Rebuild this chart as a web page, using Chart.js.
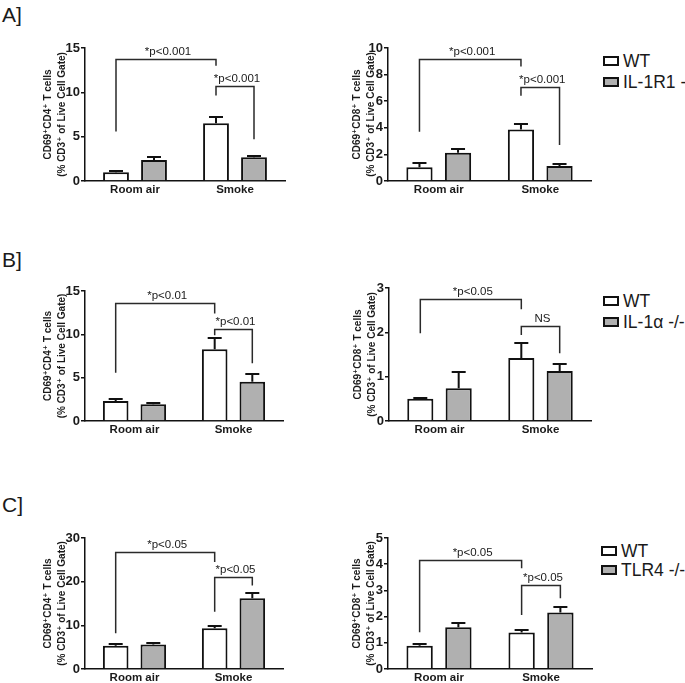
<!DOCTYPE html>
<html><head><meta charset="utf-8">
<script src="https://cdn.jsdelivr.net/npm/chart.js@4.4.1/dist/chart.umd.min.js"></script>
<style>
html,body{margin:0;padding:0;background:#fff;width:685px;height:683px;overflow:hidden;}
#wrap{position:relative;width:685px;height:683px;overflow:hidden;font-family:"Liberation Sans",Arial,"DejaVu Sans",sans-serif;color:#1a1a1a;}
#wrap canvas{position:absolute;}
.plab{position:absolute;font-size:21px;line-height:21px;white-space:nowrap;}
.lbox{position:absolute;width:12px;height:6px;border:2px solid #111;}
.ltxt{position:absolute;font-size:17.5px;line-height:18px;white-space:nowrap;}
</style></head><body><div id="wrap"></div>
<script>
// ---------- data ----------
const categories = ["Room air", "Smoke"];
const panelLetters = ["A]", "B]", "C]"];
const koNames = ["IL-1R1 -", "IL-1\u03b1 -/-", "TLR4 -/-"];
const cd4Title = ["CD69\u207aCD4\u207a T cells", "(% CD3\u207a of Live Cell Gate)"];
const cd8Title = ["CD69\u207aCD8\u207a T cells", "(% CD3\u207a of Live Cell Gate)"];

// Panel A, CD4
const aCD4_WT = [0.98, 6.5];   const aCD4_WT_err = [1.12, 7.25];
const aCD4_KO = [2.37, 2.68];  const aCD4_KO_err = [2.68, 2.82];
// Panel A, CD8
const aCD8_WT = [1.03, 3.88];  const aCD8_WT_err = [1.33, 4.26];
const aCD8_KO = [2.13, 1.13];  const aCD8_KO_err = [2.4, 1.26];
// Panel B, CD4
const bCD4_WT = [2.3, 8.27];   const bCD4_WT_err = [2.54, 9.54];
const bCD4_KO = [1.92, 4.54];  const bCD4_KO_err = [2.1, 5.38];
// Panel B, CD8
const bCD8_WT = [0.5, 1.42];   const bCD8_WT_err = [0.53, 1.76];
const bCD8_KO = [0.74, 1.13];  const bCD8_KO_err = [1.1, 1.28];
// Panel C, CD4
const cCD4_WT = [5.3, 9.33];   const cCD4_WT_err = [5.65, 9.95];
const cCD4_KO = [5.6, 16.2];   const cCD4_KO_err = [5.95, 17.4];
// Panel C, CD8
const cCD8_WT = [0.89, 1.39];  const cCD8_WT_err = [0.95, 1.48];
const cCD8_KO = [1.59, 2.16];  const cCD8_KO_err = [1.77, 2.36];

// y-axis tick settings [max, step]
const aCD4_ticks = [15, 5];  const aCD8_ticks = [10, 2];
const bCD4_ticks = [15, 5];  const bCD8_ticks = [3, 1];
const cCD4_ticks = [30, 10]; const cCD8_ticks = [5, 1];

// significance brackets: [fromCat, fromSeries, toCat, toSeries, barY, leftEnd, rightEnd, label]
const aCD4_sig = [[0,0,1,0,13.75,5.57,13.0,"*p<0.001"], [1,0,1,1,10.66,9.64,4.71,"*p<0.001"]];
const aCD8_sig = [[0,0,1,0,9.15,3.7,8.6,"*p<0.001"],   [1,0,1,1,7.09,6.41,2.7,"*p<0.001"]];
const bCD4_sig = [[0,0,1,0,13.58,5.57,12.4,"*p<0.01"], [1,0,1,1,10.6,9.9,6.65,"*p<0.01"]];
const bCD8_sig = [[0,0,1,0,2.75,1.98,2.52,"*p<0.05"],  [1,0,1,1,2.14,1.94,1.53,"NS"]];
const cCD4_sig = [[0,0,1,0,26.8,8.2,24.5,"*p<0.05"],   [1,0,1,1,21.1,13.1,19.1,"*p<0.05"]];
const cCD8_sig = [[0,0,1,0,4.16,1.4,3.85,"*p<0.05"],   [1,0,1,1,3.2,2.06,2.7,"*p<0.05"]];

// ---------- rendering ----------
const FONT = "'Liberation Sans', Arial, 'DejaVu Sans', sans-serif";
Chart.defaults.font.family = FONT;
Chart.defaults.color = '#1a1a1a';
const wrap = document.getElementById('wrap');

const overlay = {
  id: 'overlay',
  afterDatasetsDraw(chart, args, opts) {
    const ctx = chart.ctx, ys = chart.scales.y;
    ctx.save();
    ctx.strokeStyle = '#111'; ctx.lineWidth = 2; ctx.lineCap = 'butt';
    opts.errs.forEach((errArr, di) => {
      chart.getDatasetMeta(di).data.forEach((bar, j) => {
        const ye = Math.round(ys.getPixelForValue(errArr[j]));
        ctx.beginPath();
        ctx.moveTo(bar.x, bar.y); ctx.lineTo(bar.x, ye);
        ctx.moveTo(bar.x - 7, ye); ctx.lineTo(bar.x + 7, ye);
        ctx.stroke();
      });
    });
    ctx.strokeStyle = '#2a2a2a'; ctx.lineWidth = 1.5;
    ctx.font = '11.5px ' + FONT; ctx.fillStyle = '#1a1a1a';
    ctx.textAlign = 'center'; ctx.textBaseline = 'middle';
    opts.sig.forEach(s => {
      const x1 = chart.getDatasetMeta(s[1]).data[s[0]].x;
      const x2 = chart.getDatasetMeta(s[3]).data[s[2]].x;
      const yh = Math.round(ys.getPixelForValue(s[4])) + 0.5;
      const y1 = ys.getPixelForValue(s[5]), y2 = ys.getPixelForValue(s[6]);
      ctx.beginPath();
      ctx.moveTo(x1, y1); ctx.lineTo(x1, yh); ctx.lineTo(x2, yh); ctx.lineTo(x2, y2);
      ctx.stroke();
      ctx.fillText(s[7], (x1 + x2) / 2 + 2, yh - 8);
    });
    ctx.restore();
  }
};

function makeChart(geo, wt, wtErr, ko, koErr, ticks, sig, title, titlePad) {
  const yW = 85, padTop = 12, padR = 6, xH = 18;
  const plotW = geo.r - geo.l, plotH = geo.b - geo.t;
  const cv = document.createElement('canvas');
  cv.width = yW + plotW + padR; cv.height = padTop + plotH + xH;
  cv.style.left = (geo.l - yW) + 'px'; cv.style.top = (geo.t - padTop) + 'px';
  cv.style.width = cv.width + 'px'; cv.style.height = cv.height + 'px';
  wrap.appendChild(cv);
  new Chart(cv, {
    type: 'bar',
    data: {
      labels: categories,
      datasets: [
        {label: 'WT', data: wt, backgroundColor: '#ffffff', borderColor: '#111', borderWidth: 2},
        {label: 'KO', data: ko, backgroundColor: '#b0b0b0', borderColor: '#111', borderWidth: 2}
      ]
    },
    options: {
      responsive: false, animation: false, devicePixelRatio: 1,
      categoryPercentage: 0.76, barPercentage: 0.68,
      layout: {padding: {top: padTop, right: padR, bottom: 0, left: 0}},
      plugins: {legend: {display: false}, tooltip: {enabled: false}, overlay: {errs: [wtErr, koErr], sig: sig}},
      scales: {
        x: {
          grid: {display: false, drawTicks: false},
          border: {display: true, color: '#111', width: 1.5},
          ticks: {font: {size: 11.5, weight: 'bold'}, padding: 2, color: '#1a1a1a'},
          afterFit: s => { s.height = xH; }
        },
        y: {
          min: 0, max: ticks[0],
          ticks: {stepSize: ticks[1], font: {size: 13, weight: 'bold'}, padding: 1, color: '#1a1a1a'},
          grid: {display: true, drawOnChartArea: false, drawTicks: true, tickLength: 4, color: '#111', lineWidth: 1.5},
          border: {display: true, color: '#111', width: 1.5},
          title: {display: true, text: title, font: {size: 10, weight: 'bold', lineHeight: 1.33}, color: '#1a1a1a', padding: {top: titlePad, bottom: 0}},
          afterFit: s => { s.width = yW; }
        }
      }
    },
    plugins: [overlay]
  });
}

makeChart({l: 85, r: 285, t: 48, b: 181},  aCD4_WT, aCD4_WT_err, aCD4_KO, aCD4_KO_err, aCD4_ticks, aCD4_sig, cd4Title, 42);
makeChart({l: 388, r: 591, t: 48, b: 181}, aCD8_WT, aCD8_WT_err, aCD8_KO, aCD8_KO_err, aCD8_ticks, aCD8_sig, cd8Title, 48);
makeChart({l: 85, r: 283, t: 291, b: 421}, bCD4_WT, bCD4_WT_err, bCD4_KO, bCD4_KO_err, bCD4_ticks, bCD4_sig, cd4Title, 42);
makeChart({l: 389, r: 591, t: 288, b: 421}, bCD8_WT, bCD8_WT_err, bCD8_KO, bCD8_KO_err, bCD8_ticks, bCD8_sig, cd8Title, 48);
makeChart({l: 85, r: 283, t: 538, b: 669}, cCD4_WT, cCD4_WT_err, cCD4_KO, cCD4_KO_err, cCD4_ticks, cCD4_sig, cd4Title, 42);
makeChart({l: 388, r: 592, t: 538, b: 669}, cCD8_WT, cCD8_WT_err, cCD8_KO, cCD8_KO_err, cCD8_ticks, cCD8_sig, cd8Title, 48);

// panel letters and legends
const letterTops = [4, 249, 494];
const legendCenters = [[60.5, 82], [300.5, 322], [551, 570]];
const legendLeft = [603, 603, 601];
panelLetters.forEach((t, i) => {
  const d = document.createElement('div'); d.className = 'plab';
  d.style.left = '2px'; d.style.top = letterTops[i] + 'px'; d.textContent = t; wrap.appendChild(d);
  const names = ['WT', koNames[i]], fills = ['#ffffff', '#b0b0b0'];
  names.forEach((n, k) => {
    const yc = legendCenters[i][k];
    const b = document.createElement('div'); b.className = 'lbox';
    b.style.left = legendLeft[i] + 'px'; b.style.top = (yc - 5) + 'px'; b.style.background = fills[k];
    wrap.appendChild(b);
    const tx = document.createElement('div'); tx.className = 'ltxt';
    tx.style.left = (legendLeft[i] + 20) + 'px'; tx.style.top = (yc - 8.6) + 'px'; tx.textContent = n;
    wrap.appendChild(tx);
  });
});
</script></body></html>
